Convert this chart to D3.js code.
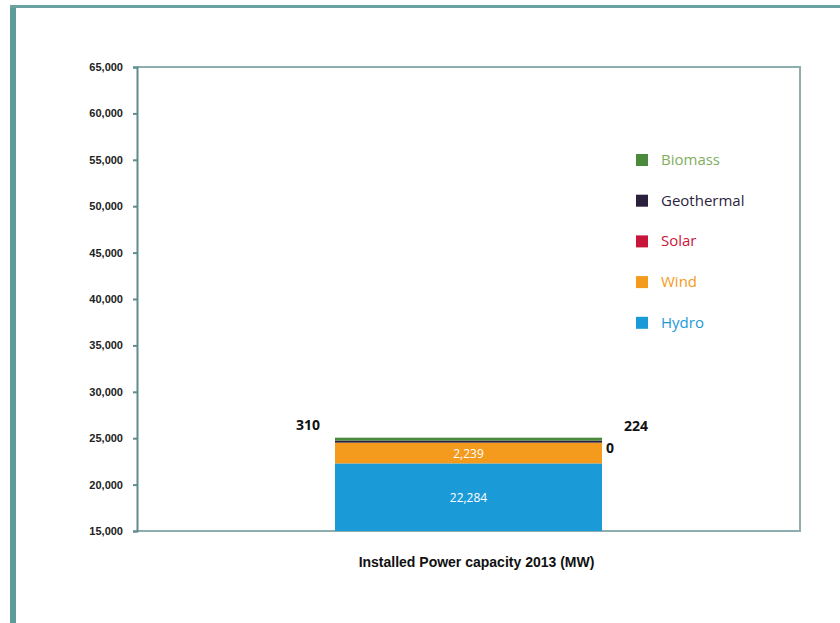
<!DOCTYPE html>
<html>
<head>
  <meta charset="utf-8">
  <title>Installed Power capacity 2013</title>
  <script src="https://cdn.jsdelivr.net/npm/d3@7"></script>
  <style>
    body { margin: 0; background: #ffffff; font-family: "Open Sans", "DejaVu Sans", sans-serif; }
    .yaxis text { font-size: 11px; font-weight: 600; fill: #222; }
    .yaxis path, .yaxis line { stroke: #5f8c8c; stroke-width: 2; }
    .xaxis path, .xaxis line { display: none; }
    .xaxis text { font-size: 14px; font-weight: 600; fill: #111; }
    .legend text { font-size: 15px; }
    .outlabel { font-size: 14px; font-weight: bold; fill: #111; }
    .inlabel { font-size: 12px; fill: #fff; text-anchor: middle; }
  </style>
</head>
<body>
<script>
  // Data
  var categories = ["Installed Power capacity 2013 (MW)"];
  var seriesNames = ["Hydro", "Wind", "Solar", "Geothermal", "Biomass"];
  var hydro = [22284];
  var wind = [2239];
  var solar = [0];
  var geothermal = [224];
  var biomass = [310];
  var yTicks = [15000, 20000, 25000, 30000, 35000, 40000, 45000, 50000, 55000, 60000, 65000];

  var colors = {
    Hydro: "#1b9ad8",
    Wind: "#f49a1c",
    Solar: "#c8153a",
    Geothermal: "#2b1f3e",
    Biomass: "#4a8a3c"
  };

  var rows = categories.map(function(c, i) {
    return { cat: c, Hydro: hydro[i], Wind: wind[i], Solar: solar[i], Geothermal: geothermal[i], Biomass: biomass[i] };
  });

  var width = 840, height = 623;
  var svg = d3.select("body").append("svg")
      .attr("width", width)
      .attr("height", height);

  // Outer frame
  svg.append("rect").attr("x", 0).attr("y", 0).attr("width", width).attr("height", height).attr("fill", "#ffffff");
  svg.append("rect").attr("x", 10).attr("y", 5).attr("width", 6).attr("height", height - 5).attr("fill", "#5e9c9c");
  svg.append("rect").attr("x", 10).attr("y", 5).attr("width", width - 10).attr("height", 3).attr("fill", "#6aa2a2");

  var plotLeft = 137, plotRight = 800, plotTop = 67, plotBottom = 531;

  var yScale = d3.scaleLinear()
      .domain([15000, 65000])
      .range([plotBottom, plotTop])
      .clamp(true);

  var xScale = d3.scaleBand()
      .domain(categories)
      .range([plotLeft, plotRight])
      .padding(0.4258);

  // Plot box (top and right)
  svg.append("path")
      .attr("d", "M" + plotLeft + "," + plotTop + "H" + plotRight + "V" + plotBottom + "H" + plotLeft)
      .attr("fill", "none")
      .attr("stroke", "#8fadad")
      .attr("stroke-width", 2);

  // Stacked bars
  var stack = d3.stack().keys(seriesNames)(rows);
  svg.selectAll("g.series")
      .data(stack)
      .enter().append("g")
      .attr("class", "series")
      .attr("fill", function(d) { return colors[d.key]; })
      .selectAll("rect")
      .data(function(d) { return d; })
      .enter().append("rect")
      .attr("x", function(d) { return xScale(d.data.cat); })
      .attr("width", xScale.bandwidth())
      .attr("y", function(d) { return yScale(d[1]); })
      .attr("height", function(d) { return yScale(d[0]) - yScale(d[1]); });

  // Axes
  svg.append("g")
      .attr("class", "yaxis")
      .attr("transform", "translate(" + plotLeft + ",0)")
      .call(d3.axisLeft(yScale).tickValues(yTicks).tickFormat(d3.format(",")).tickSize(4).tickPadding(10));

  svg.append("g")
      .attr("class", "xaxis")
      .attr("transform", "translate(8," + plotBottom + ")")
      .call(d3.axisBottom(xScale).tickSize(0).tickPadding(26));

  // Value labels
  var st = {};
  stack.forEach(function(s) { st[s.key] = s[0]; });
  var bx = xScale(categories[0]), bw = xScale.bandwidth();

  svg.append("text").attr("class", "inlabel")
      .attr("x", bx + bw / 2).attr("y", (yScale(st.Hydro[0]) + yScale(st.Hydro[1])) / 2 + 5)
      .text(d3.format(",")(hydro[0]));
  svg.append("text").attr("class", "inlabel")
      .attr("x", bx + bw / 2).attr("y", (yScale(st.Wind[0]) + yScale(st.Wind[1])) / 2 + 5)
      .text(d3.format(",")(wind[0]));

  svg.append("text").attr("class", "outlabel")
      .attr("x", bx - 15).attr("y", yScale(st.Biomass[1]) - 8)
      .attr("text-anchor", "end")
      .text(d3.format(",")(biomass[0]));
  svg.append("text").attr("class", "outlabel")
      .attr("x", bx + bw + 22).attr("y", yScale(st.Geothermal[1]) - 10)
      .text(d3.format(",")(geothermal[0]));
  svg.append("text").attr("class", "outlabel")
      .attr("x", bx + bw + 4).attr("y", yScale(st.Solar[1]) + 10)
      .text(d3.format(",")(solar[0]));

  // Legend
  var legendOrder = seriesNames.slice().reverse();
  var legend = svg.append("g").attr("class", "legend")
      .selectAll("g")
      .data(legendOrder)
      .enter().append("g")
      .attr("transform", function(d, i) { return "translate(636," + (154 + i * 40.7) + ")"; });
  legend.append("rect")
      .attr("width", 12).attr("height", 12)
      .attr("fill", function(d) { return colors[d]; });
  legend.append("text")
      .attr("x", 25).attr("y", 11)
      .attr("fill", function(d) { return d === "Biomass" ? "#7fae5e" : (d === "Geothermal" ? "#2b2440" : colors[d]); })
      .text(function(d) { return d; });
</script>
</body>
</html>
